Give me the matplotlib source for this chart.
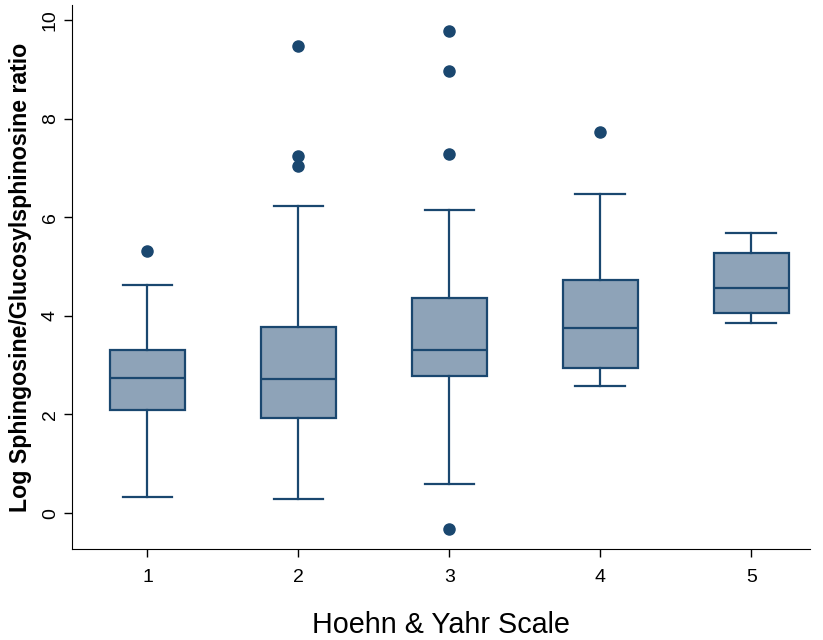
import matplotlib.pyplot as plt

plt.rcParams['font.family'] = ['Liberation Sans', 'DejaVu Sans']

# Hoehn & Yahr stages and box summary values
stages = [1, 2, 3, 4, 5]
whislo = [0.32, 0.28, 0.60, 2.58, 3.86]
q1 = [2.10, 1.93, 2.78, 2.95, 4.05]
med = [2.73, 2.71, 3.30, 3.75, 4.57]
q3 = [3.31, 3.78, 4.37, 4.73, 5.28]
whishi = [4.62, 6.23, 6.15, 6.48, 5.67]
fliers = [[5.32], [7.03, 7.24, 9.48], [7.29, 8.97, 9.78, -0.32], [7.72], []]

navy = '#1a476f'
fill = '#8ea3b8'

stats = []
for i in range(len(stages)):
    stats.append(dict(med=med[i], q1=q1[i], q3=q3[i], whislo=whislo[i],
                      whishi=whishi[i], fliers=fliers[i], label=str(stages[i])))

fig = plt.figure(figsize=(8.23, 6.40), dpi=100)
ax = fig.add_axes([0.0875, 0.142, 0.897, 0.85])

lw = 1.6
ax.bxp(stats, positions=stages, widths=0.5, capwidths=0.33, patch_artist=True,
       boxprops=dict(facecolor=fill, edgecolor=navy, linewidth=lw),
       medianprops=dict(color=navy, linewidth=lw),
       whiskerprops=dict(color=navy, linewidth=lw),
       capprops=dict(color=navy, linewidth=lw),
       flierprops=dict(marker='o', markerfacecolor=navy, markeredgecolor=navy,
                       markersize=8))

ax.set_xlim(0.5, 5.39)
ax.set_ylim(-0.73, 10.3)
ax.set_yticks([0, 2, 4, 6, 8, 10])
ax.set_yticklabels(['0', '2', '4', '6', '8', '10'], rotation=90, va='center')
ax.tick_params(axis='both', labelsize=14, length=6, width=1)
ax.tick_params(axis='x', pad=8)
ax.spines['top'].set_visible(False)
ax.spines['right'].set_visible(False)

ax.set_xlabel('Hoehn & Yahr Scale', fontsize=20.7, labelpad=18)
ax.set_ylabel('Log Sphingosine/Glucosylsphinosine ratio', fontsize=16.7,
              fontweight='bold', labelpad=7)

fig.savefig('out.png', dpi=100)
